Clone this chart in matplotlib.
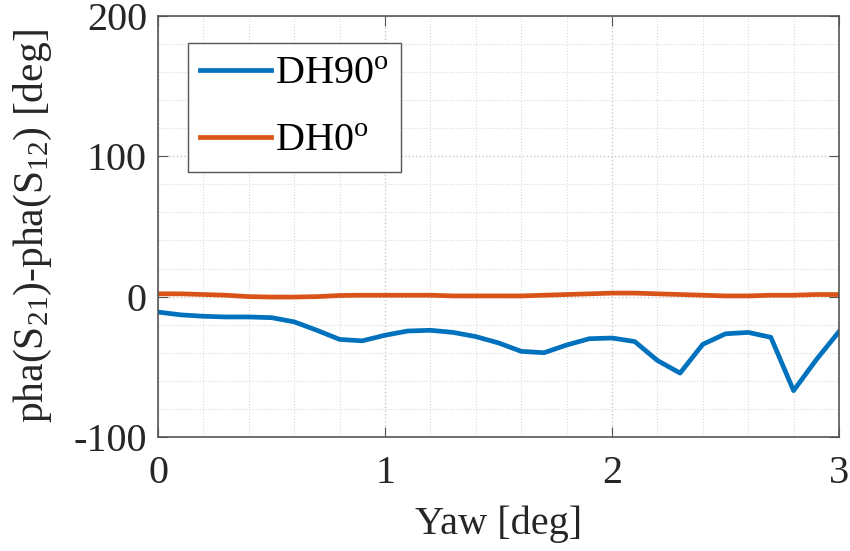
import matplotlib
matplotlib.use("Agg")
import matplotlib.pyplot as plt
from matplotlib.ticker import MultipleLocator

yaw = [round(0.1 * i, 1) for i in range(31)]
dh90 = [-11, -13, -14, -14.5, -14.5, -15, -18, -24, -30.5, -31.5,
        -27.5, -24.5, -24, -25.5, -28.5, -33, -39, -40, -34.5, -30,
        -29.5, -32, -45.5, -54.5, -34, -26.5, -25.5, -29, -67, -45, -25]
dh0 = [2, 2, 1.5, 1, 0, -0.3, -0.3, 0, 0.8, 1, 1, 1, 1, 0.5, 0.5, 0.5,
       0.5, 1, 1.5, 2, 2.5, 2.5, 2, 1.5, 1, 0.5, 0.5, 1, 1, 1.5, 1.5]
labels = ["DH90$^{\\mathrm{o}}$", "DH0$^{\\mathrm{o}}$"]

plt.rcParams['font.family'] = ['Liberation Serif', 'DejaVu Serif']
plt.rcParams['mathtext.fontset'] = 'custom'
plt.rcParams['mathtext.rm'] = 'Liberation Serif'
plt.rcParams['mathtext.it'] = 'Liberation Serif:italic'
plt.rcParams['axes.unicode_minus'] = False

fig = plt.figure(figsize=(8.5, 5.51), dpi=100)
ax = fig.add_axes([0.186, 0.207, 0.801, 0.764])

ax.plot(yaw, dh90, color='#0072BD', lw=3.4, label=labels[0])
ax.plot(yaw, dh0, color='#D95319', lw=3.4, label=labels[1])

ax.set_xlim(0, 3)
ax.set_ylim(-100, 200)
ax.xaxis.set_major_locator(MultipleLocator(1))
ax.xaxis.set_minor_locator(MultipleLocator(0.2))
ax.yaxis.set_major_locator(MultipleLocator(100))
ax.yaxis.set_minor_locator(MultipleLocator(20))

ax.grid(which='major', color='#c8c8c8', linestyle=':', linewidth=1.0)
ax.grid(which='minor', color='#d8d8d8', linestyle=':', linewidth=0.8)
ax.set_axisbelow(True)

for s in ax.spines.values():
    s.set_color('#555555')
    s.set_linewidth(1.2)
ax.tick_params(which='both', direction='in', top=True, right=True,
               colors='#262626', labelsize=29)
ax.tick_params(axis='x', pad=13)
ax.tick_params(axis='y', pad=8)
ax.tick_params(which='major', length=7, color='#555555')
ax.tick_params(which='minor', length=0)

ax.set_xlabel('Yaw [deg]', fontsize=29, color='#262626', labelpad=10)
ax.set_ylabel('pha(S$_{21}$)-pha(S$_{12}$) [deg]', fontsize=30,
              color='#262626', labelpad=14)

leg = ax.legend(loc='upper left', bbox_to_anchor=(0.044, 0.935), fontsize=29,
                frameon=True, fancybox=False, edgecolor='#555555',
                handlelength=1.75, handletextpad=0.1, borderpad=0.3,
                labelspacing=0.75, borderaxespad=0)
leg.get_frame().set_linewidth(1.0)
leg.get_frame().set_alpha(1)

fig.savefig('out.png', dpi=100)
